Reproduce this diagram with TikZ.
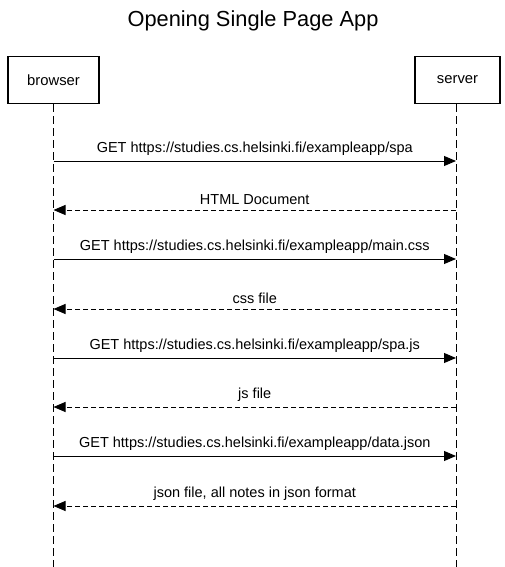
\documentclass[tikz,border=0pt]{standalone}
\usepackage{fontspec}
\setmainfont{Liberation Sans}
\usetikzlibrary{arrows.meta,positioning}
\definecolor{SeqLine}{HTML}{000000}

\tikzset{
  actor/.style={draw=SeqLine,line width=1.8pt,minimum height=47pt,inner sep=0pt,font=\fontsize{14.8}{17}\selectfont},
  lifeline/.style={draw=SeqLine,line width=0.9pt,dash pattern=on 8pt off 4pt},
  req/.style={draw=SeqLine,line width=0.9pt,-{Triangle[length=12pt,width=10pt]}},
  resp/.style={req,dash pattern=on 5pt off 3pt},
  msg/.style={above=5pt,inner sep=0pt,font=\fontsize{14.5}{17}\selectfont}
}

\begin{document}
\begin{tikzpicture}[x=1pt,y=-1pt]
\useasboundingbox (0,0) rectangle (504,567);
\node[font=\fontsize{21.8}{25}\selectfont] (title) at (253,21) {Opening Single Page App};
% participants
\node[actor,minimum width=91pt] (browser) at (53.5,80) {browser};
\node[actor,minimum width=85pt] (server) at (457.5,80) {server};
\coordinate (browserEnd) at (53.5,567);
\coordinate (serverEnd) at (456,567);
\draw[lifeline] (browser.south) -- (browserEnd);
\draw[lifeline] (server.south -| serverEnd) -- (serverEnd);
% messages
\coordinate (b1) at (53.5,161); \coordinate (s1) at (456,161);
\draw[req] (b1) -- node[msg] {GET https://studies.cs.helsinki.fi/exampleapp/spa} (s1);
\coordinate (b2) at (53.5,210); \coordinate (s2) at (456,210);
\draw[resp] (s2) -- node[msg] {HTML Document} (b2);
\coordinate (b3) at (53.5,259); \coordinate (s3) at (456,259);
\draw[req] (b3) -- node[msg] {GET https://studies.cs.helsinki.fi/exampleapp/main.css} (s3);
\coordinate (b4) at (53.5,309); \coordinate (s4) at (456,309);
\draw[resp] (s4) -- node[msg] {css file} (b4);
\coordinate (b5) at (53.5,358); \coordinate (s5) at (456,358);
\draw[req] (b5) -- node[msg] {GET https://studies.cs.helsinki.fi/exampleapp/spa.js} (s5);
\coordinate (b6) at (53.5,407); \coordinate (s6) at (456,407);
\draw[resp] (s6) -- node[msg] {js file} (b6);
\coordinate (b7) at (53.5,456); \coordinate (s7) at (456,456);
\draw[req] (b7) -- node[msg] {GET https://studies.cs.helsinki.fi/exampleapp/data.json} (s7);
\coordinate (b8) at (53.5,506); \coordinate (s8) at (456,506);
\draw[resp] (s8) -- node[msg] {json file, all notes in json format} (b8);
\end{tikzpicture}
\end{document}
